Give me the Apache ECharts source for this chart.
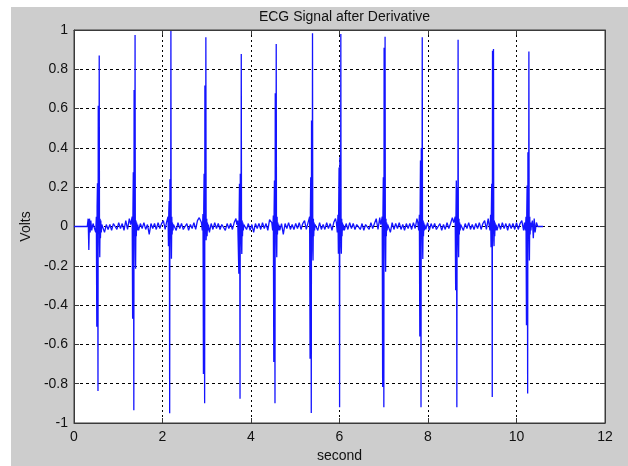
<!DOCTYPE html>
<html>
<head>
<meta charset="utf-8">
<script src="https://cdn.jsdelivr.net/npm/echarts@6/dist/echarts.min.js"></script>
<style>
html,body{margin:0;padding:0;background:#ffffff;}
#bg{position:absolute;left:11px;top:7px;width:617px;height:459px;background:#cdcdcd;}
#chart{position:absolute;left:0;top:0;width:628px;height:466px;}
</style>
</head>
<body>
<div id="bg"></div>
<div id="chart"></div>
<script>
// Tick labels
const xTicks = [0, 2, 4, 6, 8, 10, 12];
const yTicks = [-1, -0.8, -0.6, -0.4, -0.2, 0, 0.2, 0.4, 0.6, 0.8, 1];

// Beat (R-peak) times in seconds
const beatTimes = [0.57, 1.38, 2.19, 2.98, 3.78, 4.57, 5.39, 6.03, 7.03, 7.87, 8.68, 9.48, 10.28];
// sample offsets (s) of each beat's samples around its peak
const beatOffsets = [-0.10, -0.08, -0.065, -0.055, -0.048, -0.04, -0.034, -0.028, -0.022, -0.016, -0.01, -0.005, 0, 0.006, 0.012, 0.02, 0.028, 0.036, 0.046, 0.058];
// values (V) of each beat
const beat1  = [0.02,-0.03,0.05,-0.51,0.10,0.22,-0.02,-0.837,0.615,0.05,0.20,-0.04,0.87,-0.08,-0.156,0.04,-0.06,0.03,-0.03,0.01];
const beat2  = [0.01,0.02,0.05,-0.47,0.08,0.276,0.01,-0.935,0.695,0.02,0.25,-0.05,0.975,-0.10,-0.215,0.03,-0.05,0.02,-0.02,0.01];
const beat3  = [0.02,0.01,0.05,-0.10,0.07,0.13,-0.02,-0.95,0.24,0.04,0.12,-0.03,0.995,-0.06,-0.164,0.05,-0.04,0.02,-0.02,0.01];
const beat4  = [0.02,-0.02,0.064,-0.75,0.09,0.268,0.0,-0.90,0.717,0.03,0.24,-0.04,0.963,-0.07,-0.07,0.04,-0.05,0.02,-0.02,0.01];
const beat5  = [0.01,0.03,0.03,-0.24,0.06,0.217,-0.01,-0.876,0.268,0.02,0.20,-0.05,0.878,-0.09,-0.14,0.03,-0.05,0.02,-0.02,0.01];
const beat6  = [0.02,-0.02,0.056,-0.69,0.08,0.234,0.01,-0.90,0.678,0.04,0.21,-0.04,0.929,-0.08,-0.156,0.05,-0.04,0.02,-0.02,0.01];
const beat7  = [0.02,0.01,0.05,-0.673,0.07,0.251,-0.02,-0.949,0.539,0.03,0.23,-0.05,0.983,-0.12,-0.173,0.04,-0.05,0.02,-0.02,0.01];
const beat8  = [0.02,-0.03,0.06,-0.139,0.10,0.30,0.0,-0.92,0.353,0.05,0.28,-0.06,0.98,-0.10,-0.139,0.04,-0.05,0.02,-0.02,0.01];
const beat9  = [0.01,0.03,0.05,-0.817,0.07,0.25,-0.02,-0.92,0.91,0.04,0.22,-0.05,0.966,-0.10,-0.23,0.04,-0.05,0.02,-0.02,0.01];
const beat10 = [0.02,-0.02,0.06,-0.56,0.09,0.336,0.02,-0.92,0.40,0.05,0.234,-0.04,0.963,-0.07,-0.165,0.03,-0.05,0.02,-0.02,0.01];
const beat11 = [0.02,0.01,0.05,-0.325,0.06,0.234,-0.01,-0.92,0.20,0.03,0.18,-0.05,0.95,-0.09,-0.156,0.04,-0.04,0.02,-0.02,0.01];
const beat12 = [0.01,-0.02,0.06,-0.105,0.08,0.217,0.01,-0.868,0.895,0.03,0.19,-0.04,0.903,-0.07,-0.10,0.03,-0.05,0.02,-0.02,0.01];
const beat13 = [0.02,-0.02,0.05,-0.503,0.07,0.208,-0.01,-0.85,0.378,0.04,0.19,-0.05,0.89,-0.08,-0.173,0.05,-0.04,0.02,-0.02,0.01];
const beats = [beat1,beat2,beat3,beat4,beat5,beat6,beat7,beat8,beat9,beat10,beat11,beat12,beat13];

// baseline samples between beats, one sample every 0.04 s starting 0.08 s after each beat
const gapStep = 0.04;
const gapLead = 0.08;
const gap1  = [0.02,-0.03,0.01,-0.015,0.01,-0.02,0.015,0.0,-0.015,0.02,-0.01,0.015,-0.02,0.03,-0.015,0.04];
const gap2  = [-0.02,0.015,-0.01,0.02,-0.015,0.01,-0.04,0.015,-0.01,0.015,-0.015,0.02,-0.01,0.015,0.03,-0.015];
const gap3  = [0.015,-0.02,0.02,-0.01,0.015,-0.015,0.0,0.015,-0.02,0.01,-0.01,0.02,-0.015,0.03,0.045];
const gap4  = [-0.03,0.015,-0.015,0.02,-0.01,0.015,-0.015,0.01,0.02,-0.02,0.015,-0.01,0.015,-0.015,0.02,0.04];
const gap5  = [0.02,-0.015,0.015,-0.02,0.01,-0.03,0.015,-0.01,0.015,-0.015,0.02,-0.01,0.015,-0.02,0.035];
const gap6  = [-0.02,0.015,-0.04,0.015,-0.01,0.02,-0.015,0.01,-0.015,0.015,-0.01,0.02,-0.015,0.015,0.03,-0.015];
const gap7  = [0.015,-0.02,0.02,-0.015,0.01,-0.015,0.02,-0.01,0.015,-0.02,0.02,0.04];
const gap8  = [-0.02,0.015,-0.015,0.02,-0.01,0.015,-0.015,0.01,0.02,-0.015,0.015,-0.02,0.01,0.015,-0.015,0.02,-0.01,0.015,0.04,-0.015,0.045];
const gap9  = [0.015,-0.03,0.02,-0.015,0.015,-0.01,0.02,-0.015,0.01,-0.02,0.015,-0.01,0.015,-0.015,0.02,-0.01,0.04];
const gap10 = [-0.015,0.02,-0.02,0.015,-0.01,0.015,-0.015,0.0,0.015,-0.02,0.01,-0.015,0.02,-0.01,0.015,0.045];
const gap11 = [0.015,-0.02,0.015,-0.01,0.02,-0.015,0.01,-0.015,0.015,-0.01,0.02,-0.015,0.015,0.03,-0.015,0.04];
const gap12 = [-0.02,0.015,-0.015,0.02,-0.01,0.015,-0.02,0.015,-0.01,0.015,-0.015,0.02,-0.015,0.015,0.03,-0.02];
const gaps = [gap1,gap2,gap3,gap4,gap5,gap6,gap7,gap8,gap9,gap10,gap11,gap12];

// start and end of the record [t, v]
const leadIn = [[0,0],[0.30,0],[0.32,0.04],[0.335,-0.12],[0.35,0.04],[0.365,-0.03],[0.38,0.03],[0.40,-0.02],[0.43,0.015]];
const tailOut = [[10.36,0.03],[10.38,-0.06],[10.40,0.04],[10.42,-0.03],[10.45,0.02],[10.48,0.0],[10.6,0]];

// assemble samples
let pts = leadIn.slice();
beats.forEach((vals, k) => {
  const T = beatTimes[k];
  vals.forEach((v, i) => pts.push([+(T + beatOffsets[i]).toFixed(4), v]));
  if (k < gaps.length) {
    gaps[k].forEach((v, i) => pts.push([+(T + gapLead + i * gapStep).toFixed(4), v]));
  }
});
pts = pts.concat(tailOut);
pts.sort((a, b) => a[0] - b[0]);

const FONT = 'Liberation Sans, Arial, sans-serif';
const AX = '#3a3a3a';
const chart = echarts.init(document.getElementById('chart'), null, {renderer: 'canvas'});
chart.setOption({
  backgroundColor: 'transparent',
  animation: false,
  title: {
    text: 'ECG Signal after Derivative',
    left: 339.5, top: 5, textAlign: 'center',
    textStyle: {fontFamily: FONT, fontSize: 14, fontWeight: 'normal', color: '#111'}
  },
  grid: {left: 74, right: 23, top: 30, bottom: 43, show: true, containLabel: false, outerBoundsMode: 'none',
    backgroundColor: '#ffffff', borderColor: AX, borderWidth: 1},
  xAxis: [{
    type: 'value', min: 0, max: 12, interval: 2,
    name: 'second', nameLocation: 'middle', nameGap: 26,
    nameTextStyle: {fontFamily: FONT, fontSize: 14, color: '#111'},
    axisLine: {show: true, onZero: false, lineStyle: {color: AX}},
    axisTick: {show: true, inside: true, length: 5, lineStyle: {color: AX}},
    axisLabel: {fontFamily: FONT, fontSize: 14, color: '#111', margin: 7, formatter: v => String(v)},
    splitLine: {show: true, lineStyle: {color: '#000', type: [2, 3], width: 1}}
  }, {
    type: 'value', min: 0, max: 12, interval: 2, position: 'top',
    axisLine: {show: true, onZero: false, lineStyle: {color: AX}},
    axisTick: {show: true, inside: true, length: 5, lineStyle: {color: AX}},
    axisLabel: {show: false}, splitLine: {show: false}
  }],
  yAxis: [{
    type: 'value', min: -1, max: 1, interval: 0.2,
    name: 'Volts', nameLocation: 'middle', nameGap: 41,
    nameTextStyle: {fontFamily: FONT, fontSize: 14, color: '#111'},
    axisLine: {show: true, onZero: false, lineStyle: {color: AX}},
    axisTick: {show: true, inside: true, length: 5, lineStyle: {color: AX}},
    axisLabel: {fontFamily: FONT, fontSize: 14, color: '#111', margin: 6,
      formatter: v => String(Math.round(v * 10) / 10)},
    splitLine: {show: true, lineStyle: {color: '#000', type: [3, 3], width: 1}}
  }, {
    type: 'value', min: -1, max: 1, interval: 0.2, position: 'right',
    axisLine: {show: true, onZero: false, lineStyle: {color: AX}},
    axisTick: {show: true, inside: true, length: 5, lineStyle: {color: AX}},
    axisLabel: {show: false}, splitLine: {show: false}
  }],
  series: [{
    type: 'line', xAxisIndex: 0, yAxisIndex: 0,
    data: pts, showSymbol: false, symbol: 'none', sampling: null,
    lineStyle: {color: '#1414ff', width: 1.3},
    z: 3
  }]
});
</script>
</body>
</html>
